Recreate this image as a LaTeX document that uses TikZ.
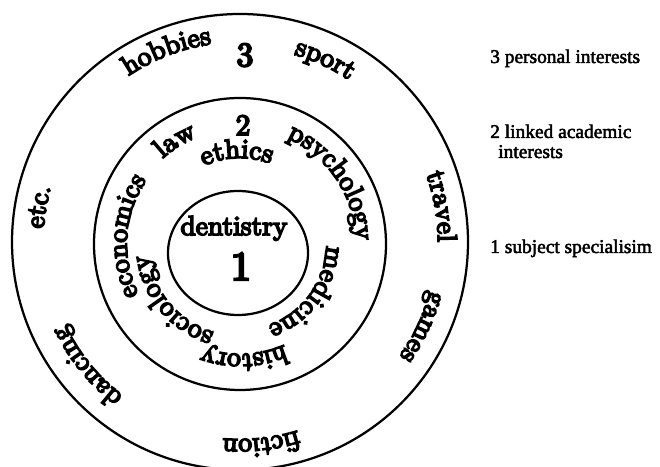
\documentclass[tikz,border=0pt]{standalone}
\usepackage{fontspec}
\newfontfamily\labelfont{Liberation Serif}[FakeBold=2.5]
\newfontfamily\ringfamily{lmroman10-regular.otf}[FakeBold=6]
\usetikzlibrary{decorations.text, positioning}
\newcommand{\ringfont}{\ringfamily\fontsize{19.5}{22}\selectfont}

\begin{document}
\begin{tikzpicture}[
    ring/.style={line width=1.6pt},
    word/.style={font=\ringfont, inner sep=0pt, anchor=base},
    legend/.style={font=\labelfont\fontsize{13.8}{16}\selectfont, inner sep=0pt, anchor=base west}]
  \useasboundingbox (0,0) rectangle (16.5,11.675);
  \coordinate (O) at (6.0,5.625);
  \coordinate (M) at (6.0,5.575);
  \coordinate (I) at (5.95,5.35);
  % the three rings
  \draw[ring] (O) circle (5.7);
  \draw[ring] (M) circle (3.65);
  \draw[ring] (I) ellipse [x radius=1.75, y radius=1.55];
  % ring 3: personal interests
  \foreach \r/\a/\w in {5.0/111/hobbies, 4.88/65/sport, 4.95/10/travel,
                        4.9/-25/games, 4.93/-84/fiction, 4.83/-141/dancing,
                        4.92/170/etc.}
    \path[decorate, decoration={text along path, text align=center,
                                text/.expanded={|\noexpand\ringfont|\w}}]
      ([shift={(\a+50:\r)}]O) arc[start angle=\a+50, end angle=\a-50, radius=\r];
  % ring 2: linked academic interests
  \foreach \r/\a/\w in {2.88/122/law, 2.15/92/ethics, 2.9/34/psychology,
                        2.15/-36/medicine, 2.75/-88/history, 2.3/-140/sociology,
                        2.83/176/economics}
    \path[decorate, decoration={text along path, text align=center,
                                text/.expanded={|\noexpand\ringfont|\w}}]
      ([shift={(\a+70:\r)}]M) arc[start angle=\a+70, end angle=\a-70, radius=\r];
  % numbers and centre
  \node[word, font=\ringfamily\fontsize{24}{26}\selectfont] (three) at (6.125,10.025) {3};
  \node[word, font=\ringfamily\fontsize{21}{24}\selectfont] (two) at (6.075,8.3) {2};
  \node[word] (dent) at (5.85,5.8) {dentistry};
  \node[word, font=\ringfamily\fontsize{29}{32}\selectfont] (one) at (6.025,4.675) {1};
  % legend
  \node[legend] (leg3) at (12.25,10.1) {3 personal interests};
  \node[legend] (leg2) at (12.25,8.225) {2 linked academic};
  \node[legend] (leg2b) at ([xshift=0.2cm,yshift=-0.5cm]leg2.base west) {interests};
  \node[legend] (leg1) at (12.25,5.35) {1 subject specialisim};
\end{tikzpicture}
\end{document}
